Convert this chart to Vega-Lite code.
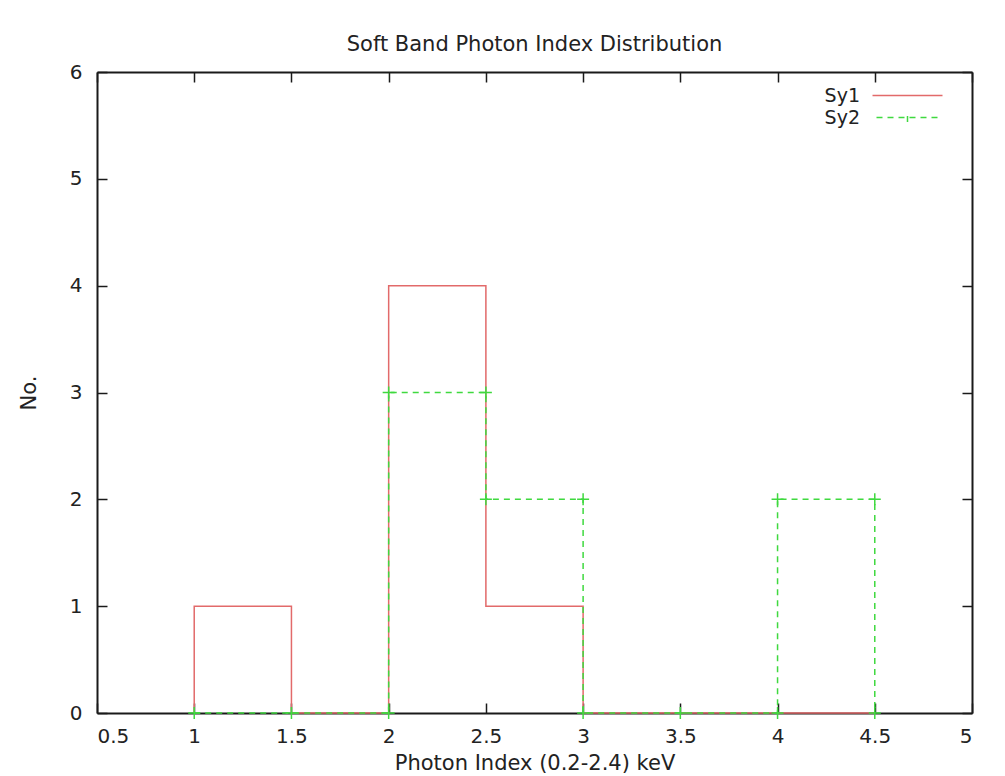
{
  "$schema": "https://vega.github.io/schema/vega-lite/v6.json",
  "width": 875,
  "height": 641,
  "autosize": {"type": "none"},
  "padding": {"left": 97, "top": 72, "right": 33, "bottom": 63},
  "background": "white",
  "title": {"text": "Soft Band Photon Index Distribution", "font": "DejaVu Sans", "fontSize": 21, "fontWeight": "normal", "color": "#222222", "offset": 7, "anchor": "middle"},
  "data": {"values": [
    {"series": "Sy1", "order": 1, "x": 1, "y": 0},
    {"series": "Sy1", "order": 2, "x": 1, "y": 1},
    {"series": "Sy1", "order": 3, "x": 1.5, "y": 1},
    {"series": "Sy1", "order": 4, "x": 1.5, "y": 0},
    {"series": "Sy1", "order": 5, "x": 2, "y": 0},
    {"series": "Sy1", "order": 6, "x": 2, "y": 4},
    {"series": "Sy1", "order": 7, "x": 2.5, "y": 4},
    {"series": "Sy1", "order": 8, "x": 2.5, "y": 1},
    {"series": "Sy1", "order": 9, "x": 3, "y": 1},
    {"series": "Sy1", "order": 10, "x": 3, "y": 0},
    {"series": "Sy1", "order": 11, "x": 4.5, "y": 0},
    {"series": "Sy2", "order": 1, "x": 1, "y": 0},
    {"series": "Sy2", "order": 2, "x": 1.5, "y": 0},
    {"series": "Sy2", "order": 3, "x": 2, "y": 0},
    {"series": "Sy2", "order": 4, "x": 2, "y": 3},
    {"series": "Sy2", "order": 5, "x": 2.5, "y": 3},
    {"series": "Sy2", "order": 6, "x": 2.5, "y": 2},
    {"series": "Sy2", "order": 7, "x": 3, "y": 2},
    {"series": "Sy2", "order": 8, "x": 3, "y": 0},
    {"series": "Sy2", "order": 9, "x": 3.5, "y": 0},
    {"series": "Sy2", "order": 10, "x": 4, "y": 0},
    {"series": "Sy2", "order": 11, "x": 4, "y": 2},
    {"series": "Sy2", "order": 12, "x": 4.5, "y": 2},
    {"series": "Sy2", "order": 13, "x": 4.5, "y": 0}
  ]},
  "config": {
    "view": {"stroke": null},
    "axis": {
      "zindex": 1, "grid": false,
      "domainColor": "#1a1a1a", "domainWidth": 2,
      "tickColor": "#1a1a1a", "tickWidth": 1.5, "tickSize": -10,
      "labelFont": "DejaVu Sans", "labelFontSize": 20, "labelColor": "#222222",
      "titleFont": "DejaVu Sans", "titleFontSize": 21, "titleFontWeight": "normal", "titleColor": "#222222"
    }
  },
  "layer": [
    {
      "mark": {"type": "line", "strokeWidth": 1.5},
      "encoding": {
        "x": {"field": "x", "type": "quantitative",
          "scale": {"domain": [0.5, 5], "nice": false, "zero": false},
          "axis": {"orient": "bottom", "values": [0.5, 1, 1.5, 2, 2.5, 3, 3.5, 4, 4.5, 5], "format": "~g", "title": "Photon Index (0.2-2.4) keV", "labelPadding": 23, "titlePadding": 6}},
        "y": {"field": "y", "type": "quantitative",
          "scale": {"domain": [0, 6], "nice": false},
          "axis": {"orient": "left", "values": [0, 1, 2, 3, 4, 5, 6], "title": "No.", "labelPadding": 25, "titlePadding": 30}},
        "color": {"field": "series", "type": "nominal",
          "scale": {"domain": ["Sy1", "Sy2"], "range": ["#e26a6a", "#3fd93f"]},
          "legend": {
            "title": null, "orient": "none", "legendX": 801, "legendY": 14,
            "symbolSize": 100, "symbolStrokeWidth": 1.5, "symbolDashOffset": 7,
            "labelAlign": "right", "labelOffset": -57,
            "labelFont": "DejaVu Sans", "labelFontSize": 19, "labelColor": "#222222",
            "rowPadding": 2,
            "encode": {"symbols": {"update": {"shape": {"signal": "datum.value === 'Sy2' ? 'M-7,0H7M0,-1.1V1.1' : 'M-7,0H7'"}}}}
          }},
        "strokeDash": {"field": "series", "type": "nominal",
          "scale": {"domain": ["Sy1", "Sy2"], "range": [[1, 0], [6, 5]]}},
        "order": {"field": "order", "type": "quantitative"}
      }
    },
    {
      "transform": [{"filter": "datum.series === 'Sy2'"}],
      "mark": {"type": "point", "shape": "M-1,0H1M0,-1V1", "filled": false, "size": 144, "strokeWidth": 1.5, "opacity": 1, "color": "#3fd93f"},
      "encoding": {
        "x": {"field": "x", "type": "quantitative",
          "scale": {"domain": [0.5, 5], "nice": false, "zero": false},
          "axis": {"orient": "top", "values": [0.5, 1, 1.5, 2, 2.5, 3, 3.5, 4, 4.5, 5], "labels": false, "title": null}},
        "y": {"field": "y", "type": "quantitative",
          "scale": {"domain": [0, 6], "nice": false},
          "axis": {"orient": "right", "values": [0, 1, 2, 3, 4, 5, 6], "labels": false, "title": null}}
      }
    }
  ],
  "resolve": {"axis": {"x": "independent", "y": "independent"}}
}
